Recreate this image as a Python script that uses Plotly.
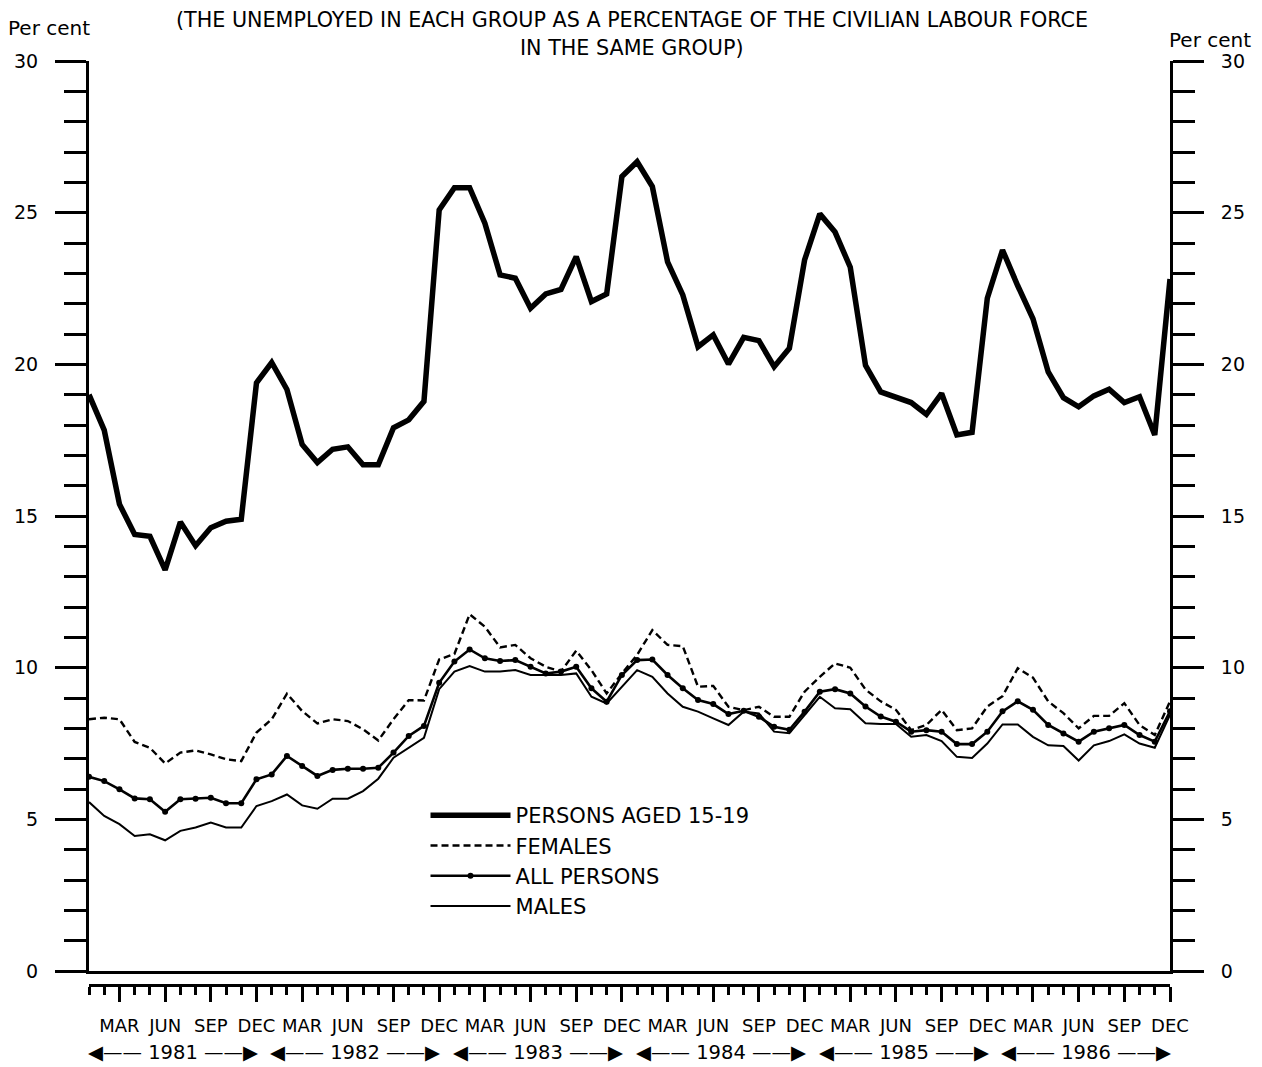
import plotly.graph_objects as go

# Monthly observations, Jan 1981 .. Dec 1986 (index 0..71)
month_index = list(range(72))

teenagers = [
    19.0, 17.83, 15.39, 14.39, 14.33, 13.22, 14.8, 14.02, 14.61, 14.83, 14.89, 19.39,
    20.06, 19.17, 17.36, 16.76, 17.2, 17.28, 16.69, 16.69, 17.91, 18.17, 18.78, 25.09,
    25.82, 25.82, 24.65, 22.95, 22.84, 21.85, 22.32, 22.47, 23.55, 22.07, 22.32, 26.19,
    26.68, 25.86, 23.38, 22.29, 20.58, 20.97, 20.01, 20.89, 20.78, 19.92, 20.53, 23.44,
    24.96, 24.36, 23.2, 19.97, 19.09, 18.9, 18.74, 18.35, 19.04, 17.67, 17.76, 22.18,
    23.77, 22.59, 21.5, 19.75, 18.9, 18.6, 18.96, 19.18, 18.74, 18.93, 17.67, 22.81,
]

females = [
    8.3, 8.35, 8.3, 7.55, 7.36, 6.84, 7.2, 7.27, 7.14, 6.98, 6.92, 7.86,
    8.3, 9.14, 8.57, 8.16, 8.3, 8.24, 7.97, 7.6, 8.3, 8.93, 8.92, 10.27,
    10.45, 11.76, 11.35, 10.67, 10.75, 10.31, 10.03, 9.87, 10.56, 9.92, 9.15, 9.81,
    10.42, 11.24, 10.75, 10.71, 9.37, 9.4, 8.71, 8.6, 8.71, 8.38, 8.38, 9.21,
    9.7, 10.14, 10.0, 9.28, 8.89, 8.61, 7.94, 8.11, 8.61, 7.94, 8.0, 8.72,
    9.06, 9.98, 9.67, 8.89, 8.5, 8.0, 8.41, 8.41, 8.83, 8.11, 7.78, 8.89,
]

all_persons = [
    6.4, 6.26, 5.99, 5.69, 5.66, 5.25, 5.66, 5.68, 5.71, 5.53, 5.53, 6.32,
    6.48, 7.09, 6.76, 6.43, 6.63, 6.67, 6.67, 6.7, 7.2, 7.75, 8.08, 9.5,
    10.2, 10.6, 10.31, 10.22, 10.25, 10.03, 9.81, 9.87, 10.03, 9.32, 8.88, 9.76,
    10.25, 10.27, 9.76, 9.32, 8.93, 8.8, 8.47, 8.58, 8.38, 8.05, 7.95, 8.55,
    9.21, 9.29, 9.15, 8.72, 8.39, 8.22, 7.89, 7.94, 7.89, 7.48, 7.48, 7.89,
    8.56, 8.89, 8.61, 8.11, 7.83, 7.56, 7.89, 8.0, 8.11, 7.78, 7.56, 8.56,
]

males = [
    5.57, 5.11, 4.84, 4.45, 4.51, 4.31, 4.62, 4.73, 4.89, 4.73, 4.73, 5.44,
    5.6, 5.82, 5.46, 5.35, 5.68, 5.68, 5.93, 6.34, 7.03, 7.36, 7.69, 9.29,
    9.87, 10.05, 9.87, 9.87, 9.92, 9.76, 9.76, 9.76, 9.81, 9.04, 8.82, 9.37,
    9.92, 9.7, 9.15, 8.71, 8.55, 8.33, 8.11, 8.55, 8.49, 7.89, 7.84, 8.44,
    9.04, 8.66, 8.63, 8.17, 8.14, 8.14, 7.72, 7.78, 7.58, 7.06, 7.02, 7.5,
    8.13, 8.13, 7.72, 7.44, 7.42, 6.94, 7.44, 7.58, 7.8, 7.5, 7.36, 8.44,
]

years = [1981, 1982, 1983, 1984, 1985, 1986]
quarter_labels = ["MAR", "JUN", "SEP", "DEC"]
series_names = ["PERSONS AGED 15-19", "FEMALES", "ALL PERSONS", "MALES"]
y_ticks = [0, 5, 10, 15, 20, 25, 30]

FONT = "DejaVu Sans"
BLACK = "#000000"

# page body has an 8px margin in the browser
OFF = 8
FIG_W, FIG_H = 1262 - OFF, 1067 - OFF
PLOT_L, PLOT_R, PLOT_T, PLOT_B = 89, 1170, 61, 971   # screen px of plot area
BOT_SCREEN = 1027                                     # screen px of paper bottom
L = PLOT_L - OFF
R = FIG_W - (PLOT_R - OFF)
T = PLOT_T - OFF
B = FIG_H - (BOT_SCREEN - OFF)
paper_h = BOT_SCREEN - PLOT_T
paper_w = PLOT_R - PLOT_L


def py(y_screen):
    return (BOT_SCREEN - y_screen) / paper_h


def px(x_screen):
    return (x_screen - PLOT_L) / paper_w


fig = go.Figure()

fig.add_trace(go.Scatter(
    x=month_index, y=teenagers, mode="lines", name=series_names[0],
    line=dict(color=BLACK, width=5.5),
))
fig.add_trace(go.Scatter(
    x=month_index, y=females, mode="lines", name=series_names[1],
    line=dict(color=BLACK, width=2.4, dash="7px,4px"),
))
fig.add_trace(go.Scatter(
    x=month_index, y=all_persons, mode="lines+markers", name=series_names[2],
    line=dict(color=BLACK, width=2.6),
    marker=dict(color=BLACK, size=6, symbol="circle"),
))
fig.add_trace(go.Scatter(
    x=month_index, y=males, mode="lines", name=series_names[3],
    line=dict(color=BLACK, width=2),
))
# invisible trace on the secondary axes so they render
fig.add_trace(go.Scatter(
    x=month_index, y=males, xaxis="x2", yaxis="y2", mode="lines",
    line=dict(width=0), opacity=0, showlegend=False, hoverinfo="skip",
))

y_dom0 = py(PLOT_B)
tickrow_pos = py(985)

q_vals = [y * 12 + m - (years[0] * 12) for y in years for m in (2, 5, 8, 11)]
q_text = [quarter_labels[k % 4] for k in range(len(q_vals))]

yaxis_common = dict(
    range=[0, 30], domain=[y_dom0, 1], tickvals=y_ticks,
    ticks="outside", ticklen=31, tickwidth=3, tickcolor=BLACK,
    showline=True, linewidth=3, linecolor=BLACK,
    showgrid=False, zeroline=False, automargin=False,
    tickfont=dict(family=FONT, size=19, color=BLACK),
    ticklabelstandoff=13,
    minor=dict(ticks="outside", ticklen=22, tickwidth=3, tickcolor=BLACK, dtick=1, showgrid=False),
)

fig.update_layout(
    width=FIG_W, height=FIG_H,
    margin=dict(l=L, r=R, t=T, b=B, autoexpand=False),
    paper_bgcolor="white", plot_bgcolor="white",
    font=dict(family=FONT, size=19, color=BLACK),
    xaxis=dict(
        range=[0, 71], domain=[0, 1], showline=True, linewidth=3, linecolor=BLACK,
        showticklabels=False, ticks="", showgrid=False, zeroline=False, automargin=False,
    ),
    xaxis2=dict(
        range=[0, 71], domain=[0, 1], overlaying="x", anchor="free", position=tickrow_pos,
        side="bottom", showline=True, linewidth=3, linecolor=BLACK,
        tickvals=q_vals, ticktext=q_text, ticks="outside", ticklen=15, tickwidth=2.5,
        tickcolor=BLACK, showgrid=False, zeroline=False, automargin=False,
        tickfont=dict(family=FONT, size=18, color=BLACK),
        ticklabelstandoff=8,
        minor=dict(ticks="outside", ticklen=8, tickwidth=2.5, tickcolor=BLACK, dtick=1, tick0=0, showgrid=False),
    ),
    yaxis=dict(side="left", anchor="x", **yaxis_common),
    yaxis2=dict(side="right", overlaying="y", anchor="x", **yaxis_common),
    showlegend=True,
    legend=dict(
        x=px(432) - 0.006, y=py(795), xanchor="left", yanchor="top",
        bgcolor="rgba(0,0,0,0)", itemwidth=80,
        font=dict(family=FONT, size=21, color=BLACK),
        tracegroupgap=0,
    ),
)

annotations = [
    dict(text="(THE UNEMPLOYED IN EACH GROUP AS A PERCENTAGE OF THE CIVILIAN LABOUR FORCE",
         x=px(632), y=py(20), xref="paper", yref="paper",
         xanchor="center", yanchor="middle",
         showarrow=False, font=dict(size=20.7)),
    dict(text="IN THE SAME GROUP)",
         x=px(632), y=py(48), xref="paper", yref="paper",
         xanchor="center", yanchor="middle",
         showarrow=False, font=dict(size=20.7)),
    dict(text="Per cent", x=px(49), y=py(28),
         xref="paper", yref="paper", xanchor="center", yanchor="middle",
         showarrow=False, font=dict(size=20)),
    dict(text="Per cent", x=px(1210), y=py(40),
         xref="paper", yref="paper", xanchor="center", yanchor="middle",
         showarrow=False, font=dict(size=20)),
]
for k, yr in enumerate(years):
    annotations.append(dict(
        text="\u25C0\u2014\u2014 " + str(yr) + " \u2014\u2014\u25B6",
        x=k * 12 + 5.5, xref="x", y=py(1052), yref="paper",
        xanchor="center", yanchor="middle",
        showarrow=False, font=dict(size=19.5),
    ))
fig.update_layout(annotations=annotations)

fig.write_html("out.html")
